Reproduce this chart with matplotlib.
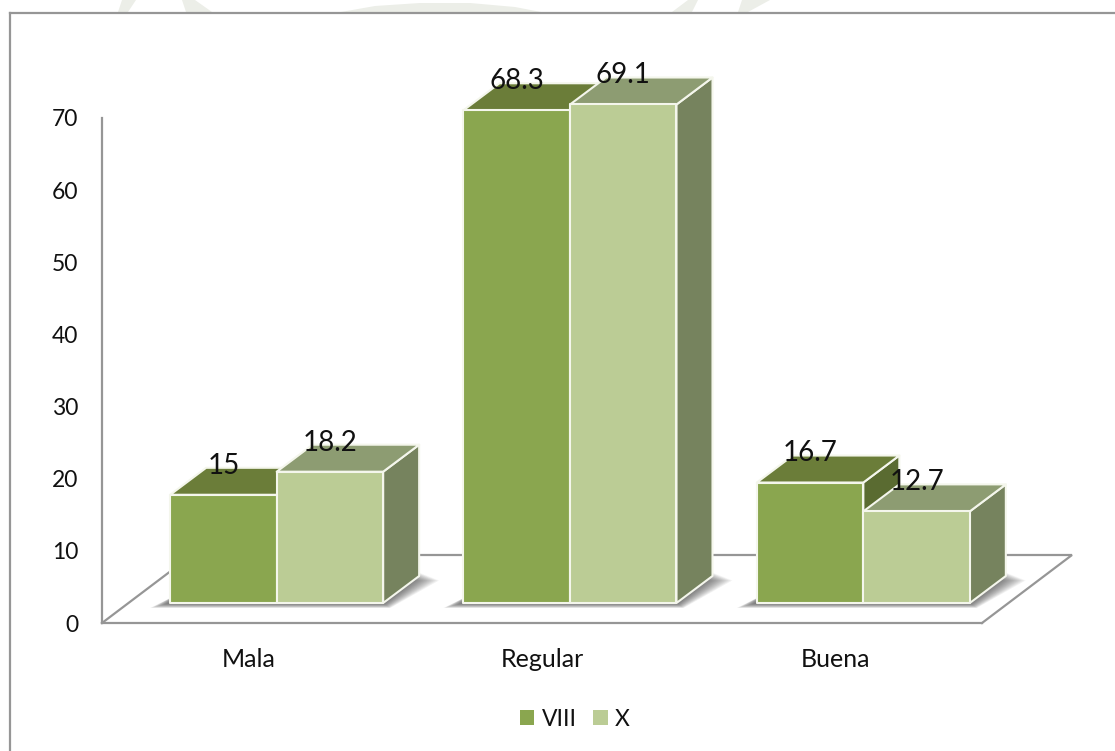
"""
Grouped pseudo-3D column chart of Mala / Regular / Buena percentages for
grades VIII and X, drawn with plain polygons on a flat matplotlib axes.
"""
import matplotlib
matplotlib.use("Agg")
import matplotlib.pyplot as plt
from matplotlib.lines import Line2D
from matplotlib.patches import Patch, Polygon

categories = ["Mala", "Regular", "Buena"]
series_names = ["VIII", "X"]
values_viii = [15, 68.3, 16.7]
values_x = [18.2, 69.1, 12.7]
y_ticks = [0, 10, 20, 30, 40, 50, 60, 70]

GREY = "#969696"
EDGE = "#f4f6ec"
FRONT = ["#8aa64f", "#bbcc95"]
TOP = ["#6b7d39", "#8d9c72"]
SIDE = ["#5a6b31", "#76835e"]

FIG_W, FIG_H = 1115, 751
AX_L, AX_R, AX_T, AX_B = 102, 982, 118, 623

# oblique projection, in data units
PX_X = (AX_R - AX_L) / 3
PX_Y = (AX_B - AX_T) / 70
FLOOR_DX, FLOOR_DY = 90 / PX_X, 68 / PX_Y
BAR_DX, BAR_DY = 36 / PX_X, 27 / PX_Y
BASE_DX, BASE_DY = 28 / PX_X, 20 / PX_Y
BAR_W = 106.5 / PX_X

plt.rcParams["font.family"] = ["Lato", "DejaVu Sans"]


def quad(ax, pts, color, z, edge=EDGE, lw=1.5, alpha=None):
    ax.add_patch(Polygon(pts, closed=True, facecolor=color, edgecolor=edge, linewidth=lw,
                         alpha=alpha, zorder=z, clip_on=False, joinstyle="round"))


def draw_shadow(ax, x0, x1):
    # stacked translucent footprints give the soft floor shadow
    y0 = BASE_DY
    steps = 16
    for k in range(steps, 0, -1):
        e = k / steps
        grow = e * 20 / PX_X
        drop = e * 5 / PX_Y
        back = y0 + BAR_DY + 0.5 - e * 1.1
        pts = [
            (x0 - grow, y0 - drop),
            (x1 + grow * 0.35, y0 - drop),
            (x1 + BAR_DX + grow, back),
            (x0 + BAR_DX, back),
        ]
        quad(ax, pts, "#4a4a4a", 2, edge="none", lw=0, alpha=0.075)


def draw_box(ax, x0, value, s, z):
    x1 = x0 + BAR_W
    y0, y1 = BASE_DY, BASE_DY + value
    quad(ax, [(x1, y0), (x1 + BAR_DX, y0 + BAR_DY), (x1 + BAR_DX, y1 + BAR_DY), (x1, y1)], SIDE[s], z)
    quad(ax, [(x0, y1), (x1, y1), (x1 + BAR_DX, y1 + BAR_DY), (x0 + BAR_DX, y1 + BAR_DY)], TOP[s], z)
    quad(ax, [(x0, y0), (x1, y0), (x1, y1), (x0, y1)], FRONT[s], z)


fig = plt.figure(figsize=(FIG_W / 100, FIG_H / 100), dpi=100, facecolor="white")
ax = fig.add_axes([AX_L / FIG_W, 1 - AX_B / FIG_H, (AX_R - AX_L) / FIG_W, (AX_B - AX_T) / FIG_H])
ax.set_facecolor("none")
ax.set_xlim(-0.5, 2.5)
ax.set_ylim(0, 70)

for side in ["top", "right"]:
    ax.spines[side].set_visible(False)
for side in ["left", "bottom"]:
    ax.spines[side].set_color(GREY)
    ax.spines[side].set_linewidth(1.6)

ax.set_xticks(range(len(categories)))
ax.set_xticklabels(categories, fontsize=18, color="#111111")
ax.set_yticks(y_ticks)
ax.tick_params(axis="x", length=0, pad=18)
ax.tick_params(axis="y", length=0, pad=17, labelsize=16.5, labelcolor="#111111")

# floor of the plot: right edge, back edge and left diagonal
xl, xr = -0.5, 2.5
ax.plot([xl, xl + FLOOR_DX, xr + FLOOR_DX, xr], [0, FLOOR_DY, FLOOR_DY, 0],
        color=GREY, linewidth=1.6, zorder=1, clip_on=False, solid_joinstyle="miter")

for i, (a, b) in enumerate(zip(values_viii, values_x)):
    x0 = i - BAR_W + BASE_DX
    draw_shadow(ax, x0, x0 + 2 * BAR_W)
    draw_box(ax, x0, a, 0, 3)
    draw_box(ax, x0 + BAR_W, b, 1, 4)
    for x, v in [(x0 + BAR_W / 2, a), (x0 + 1.5 * BAR_W, b)]:
        ax.annotate(f"{v:g}", (x, BASE_DY + v), xytext=(0, 21), textcoords="offset points",
                    ha="center", va="center", fontsize=20, color="#111111", zorder=6,
                    annotation_clip=False)

handles = [Patch(facecolor=FRONT[0], edgecolor="none"), Patch(facecolor=FRONT[1], edgecolor="none")]
fig.legend(handles, series_names, loc="center", bbox_to_anchor=(575 / FIG_W, 1 - 719 / FIG_H), ncol=2,
           frameon=False, fontsize=16.5, handlelength=0.62, handleheight=0.62, handletextpad=0.33,
           columnspacing=0.73, labelcolor="#111111")

# outer frame: only the top and left rules are inside the page
fig.add_artist(Line2D([10 / FIG_W, 10 / FIG_W], [0, 1 - 13 / FIG_H], color=GREY, linewidth=1.6))
fig.add_artist(Line2D([10 / FIG_W, 1], [1 - 13 / FIG_H, 1 - 13 / FIG_H], color=GREY, linewidth=1.6))

# faint page watermark peeking out above the frame
for shape in [
    [(341, 12), (375, 6), (420, 3), (470, 3), (515, 7), (541, 12)],
    [(118, 12), (122, 0), (136, 0), (128, 12)],
    [(186, 12), (182, 0), (195, 0), (212, 12)],
    [(672, 12), (688, 0), (698, 0), (692, 12)],
    [(738, 12), (742, 0), (770, 0), (748, 12)],
]:
    fig.add_artist(Polygon([(x / FIG_W, 1 - y / FIG_H) for x, y in shape], closed=True,
                           transform=fig.transFigure, facecolor="#eceee8", edgecolor="none"))

fig.savefig("out.png", dpi=100)
plt.close(fig)
